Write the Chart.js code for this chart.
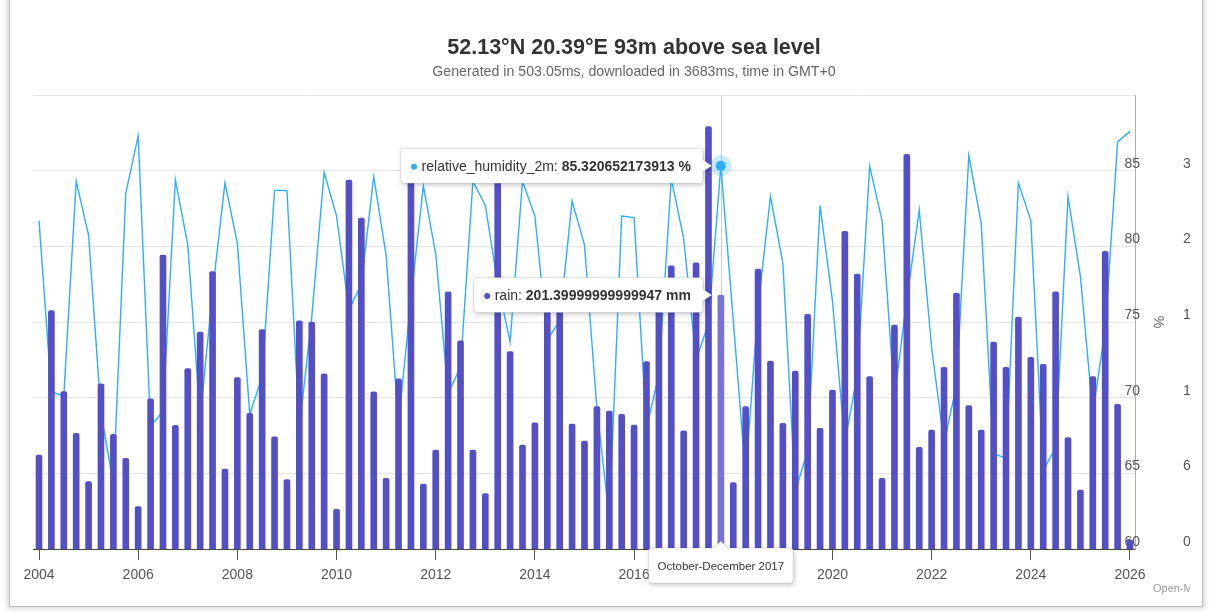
<!DOCTYPE html>
<html><head><meta charset="utf-8">
<script src="https://cdn.jsdelivr.net/npm/chart.js@4"></script>
<style>
html,body{margin:0;padding:0;background:#fff;width:1209px;height:613px;overflow:hidden;}
#frame{position:absolute;left:9px;top:-20px;width:1192px;height:625px;border:1px solid #bdbdbd;box-shadow:0 0 5px 2px rgba(0,0,0,0.16);background:#fff;}
#clip{position:absolute;left:12px;top:0;width:1178px;height:600px;overflow:hidden;background:#fff;}
#wrap{position:absolute;left:0;top:0;width:1244px;height:600px;}
#credits{position:absolute;left:1141px;top:582px;font:11px "Liberation Sans",Arial,sans-serif;color:#999;white-space:nowrap;}
</style></head>
<body>
<div id="frame"></div>
<div id="clip"><div id="wrap"><canvas id="c" width="1244" height="600"></canvas></div><div id="credits">Open-Meteo.com</div></div>
<script>
const titleText = '52.13°N 20.39°E 93m above sea level';
const subtitleText = 'Generated in 503.05ms, downloaded in 3683ms, time in GMT+0';
const startYear = 2004;
const quarterNames = ['January-March','April-June','July-September','October-December'];
const xTickLabels = ['2004','2006','2008','2010','2012','2014','2016','2018','2020','2022','2024','2026'];
const humTickValues = [60,65,70,75,80,85,90];
const rainTickValues = [0,60,120,180,240,300,360];
const hoverIndex = 55;

const rain = [74.5,189,124.8,91.7,53.4,131,91,72,33.6,119,233,98,143,172,220,63.4,136,107.6,174,89,55,181,180,139,31.5,292.6,262.5,124.7,56,135,305,51.5,78.5,204,165,78.5,44,300,156.5,82.5,100,205,200,99,85.6,113,109.4,106.8,98.3,148.6,200,224.6,93.8,227,335,201.39999999999947,52.6,113,222,149,99.7,141,186,95.7,126,252,218,136.7,56,177.6,313,80.6,94.4,144,203,113.7,94.4,164,144,184,152,146.4,204,88.3,46.8,136.7,236,114.7,7];
const humidity = [81.7,70.4,70.1,84.3,80.75,69.0,64.3,83.5,87.3,68.1,69.1,84.4,80.1,68.7,77.0,84.2,80.2,68.9,71.4,83.7,83.7,68.0,75.3,84.9,82.0,75.8,77.5,84.6,79.4,68.3,76.5,84.0,79.5,70.3,72.0,84.3,82.7,77.5,73.7,84.3,82.0,73.8,75.1,83.0,80.1,69.3,62.0,82.0,81.9,68.0,71.5,84.5,80.5,72.5,74.9,85.320652173913,75.1,64.8,76.0,83.3,78.9,63.8,66.5,82.7,76.4,67.0,71.5,85.3,81.7,70.0,76.5,82.4,73.3,67.0,70.8,86.0,81.5,66.3,66.0,84.2,81.7,65.2,66.7,83.3,78.0,69.0,74.5,86.9,87.6];

const xs = rain.map((_, i) => startYear + i / 4);
const tickYears = xTickLabels.map(Number);

const FONT = '"Liberation Sans", Arial, sans-serif';
Chart.defaults.font.family = FONT;

function calloutPath(ctx, x, y, w, h, r, arrow) {
  ctx.beginPath();
  ctx.moveTo(x + r, y);
  if (arrow.side === 'top') {
    ctx.lineTo(arrow.x - 7, y);
    ctx.lineTo(arrow.x, arrow.y);
    ctx.lineTo(arrow.x + 7, y);
  }
  ctx.lineTo(x + w - r, y);
  ctx.arcTo(x + w, y, x + w, y + r, r);
  if (arrow.side === 'right') {
    ctx.lineTo(x + w, arrow.y - 6);
    ctx.lineTo(arrow.x, arrow.y);
    ctx.lineTo(x + w, arrow.y + 6);
  }
  ctx.lineTo(x + w, y + h - r);
  ctx.arcTo(x + w, y + h, x + w - r, y + h, r);
  ctx.lineTo(x + r, y + h);
  ctx.arcTo(x, y + h, x, y + h - r, r);
  ctx.lineTo(x, y + r);
  ctx.arcTo(x, y, x + r, y, r);
  ctx.closePath();
}
function drawBox(ctx, x, y, w, h, arrow) {
  ctx.save();
  ctx.shadowColor = 'rgba(0,0,0,0.22)';
  ctx.shadowBlur = 5;
  ctx.shadowOffsetX = 1;
  ctx.shadowOffsetY = 2;
  calloutPath(ctx, x, y, w, h, 3, arrow);
  ctx.fillStyle = '#ffffff';
  ctx.fill();
  ctx.restore();
  ctx.save();
  calloutPath(ctx, x, y, w, h, 3, arrow);
  ctx.strokeStyle = 'rgba(0,0,0,0.10)';
  ctx.lineWidth = 1;
  ctx.stroke();
  ctx.restore();
}
function seriesLabel(ctx, anchorX, anchorY, color, name, valueText) {
  ctx.save();
  ctx.font = '14px ' + FONT;
  const n = name + ': ';
  const nw = ctx.measureText(n).width;
  ctx.font = 'bold 14px ' + FONT;
  const vw = ctx.measureText(valueText).width;
  const w = 21 + nw + vw + 12;
  const h = 35;
  const right = anchorX - 18;
  const left = right - w;
  const top = anchorY - h / 2;
  drawBox(ctx, left, top, w, h, {side: 'right', x: anchorX - 9, y: anchorY});
  ctx.fillStyle = color;
  ctx.beginPath(); ctx.arc(left + 13.5, anchorY + 1, 3, 0, Math.PI * 2); ctx.fill();
  ctx.textBaseline = 'middle';
  ctx.fillStyle = '#333333';
  ctx.font = '14px ' + FONT;
  ctx.fillText(n, left + 21, anchorY + 1);
  ctx.font = 'bold 14px ' + FONT;
  ctx.fillText(valueText, left + 21 + nw, anchorY + 1);
  ctx.restore();
}

const splitTooltip = {
  id: 'splitTooltip',
  beforeDatasetsDraw(chart) {
    const {ctx, chartArea, scales} = chart;
    const x = Math.round(scales.x.getPixelForValue(xs[hoverIndex])) + 0.5;
    ctx.save();
    ctx.strokeStyle = '#cccccc';
    ctx.lineWidth = 1;
    ctx.beginPath();
    ctx.moveTo(x, chartArea.top);
    ctx.lineTo(x, chartArea.bottom);
    ctx.stroke();
    ctx.restore();
  },
  afterDatasetsDraw(chart) {
    const {ctx, chartArea, scales} = chart;
    const px = scales.x.getPixelForValue(xs[hoverIndex]);
    const hy = scales.yHum.getPixelForValue(humidity[hoverIndex]);
    const ry = scales.yRain.getPixelForValue(rain[hoverIndex]);
    ctx.save();
    ctx.fillStyle = 'rgba(44,175,254,0.25)';
    ctx.beginPath(); ctx.arc(px, hy, 10.5, 0, Math.PI * 2); ctx.fill();
    ctx.fillStyle = '#2caffe';
    ctx.beginPath(); ctx.arc(px, hy, 5, 0, Math.PI * 2); ctx.fill();
    ctx.restore();
    seriesLabel(ctx, px, hy, '#2caffe', 'relative_humidity_2m', String(humidity[hoverIndex]) + ' %');
    seriesLabel(ctx, px, ry, '#544fc5', 'rain', rain[hoverIndex].toPrecision(17) + ' mm');
    const q = hoverIndex % 4, yr = startYear + Math.floor(hoverIndex / 4);
    const head = quarterNames[q] + ' ' + yr;
    ctx.save();
    ctx.font = '11.5px ' + FONT;
    const tw = ctx.measureText(head).width;
    const w = tw + 18, h = 35;
    const top = chartArea.bottom - 1;
    drawBox(ctx, px - w / 2, top, w, h, {side: 'top', x: px, y: top - 7});
    ctx.fillStyle = '#333333';
    ctx.textBaseline = 'middle';
    ctx.textAlign = 'center';
    ctx.fillText(head, px, top + h / 2 + 1);
    ctx.restore();
  }
};

const ctx = document.getElementById('c').getContext('2d');
new Chart(ctx, {
  data: {
    datasets: [
      {
        type: 'line', label: 'relative_humidity_2m',
        data: xs.map((x, i) => ({x: x, y: humidity[i]})),
        yAxisID: 'yHum', borderColor: '#2caffe', borderWidth: 1.4,
        pointRadius: 0, tension: 0, order: 2
      },
      {
        type: 'bar', label: 'rain',
        data: xs.map((x, i) => ({x: x, y: rain[i]})),
        yAxisID: 'yRain',
        backgroundColor: rain.map((_, i) => i === hoverIndex ? 'rgb(120,114,214)' : '#544fc5'),
        barThickness: 6, borderRadius: {topLeft: 2, topRight: 2, bottomLeft: 0, bottomRight: 0},
        borderSkipped: 'bottom', order: 1
      }
    ]
  },
  options: {
    responsive: false, animation: false, events: [],
    layout: {padding: {left: 21, right: 21, top: 0, bottom: 16}},
    plugins: {
      legend: {display: false},
      tooltip: {enabled: false},
      title: {display: true, text: titleText, color: '#333333',
        font: {size: 21.5, weight: 'bold'}, padding: {top: 35, bottom: 0}},
      subtitle: {display: true, text: subtitleText, color: '#666666',
        font: {size: 14.2}, padding: {top: 3, bottom: 14.2}}
    },
    scales: {
      x: {
        type: 'linear', position: 'bottom', offset: false,
        min: 2004 - 6 / 49.59, max: 2026 + 5 / 49.59,
        afterBuildTicks: s => { s.ticks = tickYears.map(v => ({value: v})); },
        afterFit: s => { s.height = 35; },
        ticks: {callback: (v, i) => xTickLabels[i], autoSkip: false, maxRotation: 0,
          color: '#555555', font: {size: 14}, padding: 7},
        grid: {offset: false, drawOnChartArea: false, drawTicks: true, tickLength: 11, color: '#555555'},
        border: {color: '#444444', width: 1}
      },
      yHum: {
        type: 'linear', position: 'right', weight: 1, min: 60, max: 90,
        afterBuildTicks: s => { s.ticks = humTickValues.map(v => ({value: v})); },
        afterFit: s => { s.width = 35; },
        ticks: {callback: v => (v === 90 ? '' : String(v)), color: '#555555', font: {size: 14},
          mirror: true, padding: 5, labelOffset: -7},
        grid: {color: '#e6e6e6', drawTicks: false},
        border: {color: '#b0b0b0', width: 1},
        title: {display: true, text: '%', color: '#666666', font: {size: 14}, padding: {top: 4, bottom: 0}}
      },
      yRain: {
        type: 'linear', position: 'right', weight: 2, min: 0, max: 360,
        afterBuildTicks: s => { s.ticks = rainTickValues.map(v => ({value: v})); },
        afterFit: s => { s.width = 65; },
        ticks: {callback: v => (v === 360 ? '' : String(v)), color: '#555555', font: {size: 14},
          padding: 13, labelOffset: -7},
        grid: {display: false, drawOnChartArea: false, drawTicks: false},
        border: {display: false}
      }
    }
  },
  plugins: [splitTooltip]
});
</script>
</body></html>
